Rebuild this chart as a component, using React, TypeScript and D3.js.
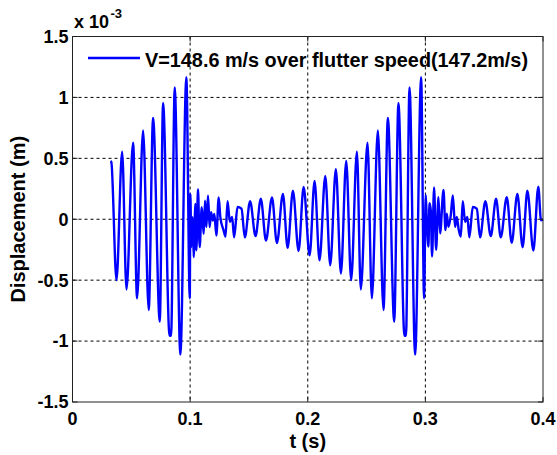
import React from "react";
import * as d3 from "d3";

// time (s), displacement (x 1e-3 m)
const segmentA: [number, number][] = [
  [0.0323, 0.478], [0.0330, 0.47], [0.0374, -0.5], [0.0422, 0.554], [0.0459, -0.576],
  [0.0515, 0.628], [0.0549, -0.649], [0.06, 0.728], [0.0648, -0.745], [0.0685, 0.832],
  [0.0742, -0.84], [0.077, 0.954], [0.0825, -0.957], [0.0838, -0.957], [0.0869, 1.082],
  [0.0917, -1.111], [0.0968, 1.166], [0.0997, -0.649],
];

const segmentB: [number, number][] = [
  [0.1002, 0.207], [0.101, -0.228], [0.1022, 0.016], [0.103, -0.31], [0.1045, 0.125],
  [0.1053, -0.255], [0.1067, 0.247], [0.1081, -0.228], [0.1099, 0.098], [0.1115, -0.12],
  [0.1127, 0.152], [0.1138, -0.065], [0.1152, 0.193], [0.1166, -0.065], [0.1178, 0.057],
  [0.1192, -0.01], [0.1206, 0.043], [0.1223, -0.133], [0.1243, 0.179], [0.1257, 0.016],
  [0.1284, -0.089], [0.1301, -0.143], [0.1318, 0.149], [0.1338, -0.022], [0.1357, 0.019],
  [0.1374, -0.149], [0.1403, 0.1], [0.1437, 0.086], [0.1465, -0.149], [0.151, 0.149],
  [0.1556, -0.138], [0.1601, 0.168], [0.1645, -0.175], [0.1696, 0.179], [0.1738, -0.196],
  [0.1789, 0.207], [0.1829, -0.234], [0.1874, 0.234], [0.1922, -0.261], [0.1965, 0.266],
  [0.2016, -0.296], [0.2058, 0.315], [0.21, -0.337], [0.2149, 0.356], [0.2191, -0.378],
  [0.2239, 0.41], [0.2282, -0.446], [0.2327, 0.478], [0.2369, -0.5], [0.2418, 0.554],
  [0.2451, -0.576], [0.2508, 0.628], [0.2545, -0.649], [0.2596, 0.728], [0.2644, -0.745],
  [0.2681, 0.832], [0.2735, -0.84], [0.2771, 0.954], [0.2822, -0.957], [0.2835, -0.957],
  [0.2865, 1.082], [0.2913, -1.111], [0.2964, 1.166], [0.2989, -0.649],
];

const segmentC: [number, number][] = [
  [0.3003, 0.2], [0.3012, -0.008], [0.3026, -0.224], [0.3035, 0.132], [0.3046, 0.073],
  [0.3057, -0.305], [0.3074, 0.262], [0.3091, -0.251], [0.3111, 0.181], [0.3125, -0.116],
  [0.3154, 0.24], [0.3171, -0.089], [0.3182, 0.046], [0.3196, -0.062], [0.3216, 0.032],
  [0.3233, 0.195], [0.3253, -0.062], [0.3267, 0.019], [0.3284, -0.089], [0.3301, -0.143],
  [0.3318, 0.149], [0.3338, -0.022], [0.3357, 0.019], [0.3374, -0.149], [0.3403, 0.1],
  [0.3437, 0.086], [0.3465, -0.149], [0.351, 0.149], [0.3556, -0.138], [0.3601, 0.168],
  [0.3641, -0.149], [0.3692, 0.181], [0.3734, -0.192], [0.3782, 0.208], [0.3827, -0.23],
  [0.3867, 0.235], [0.3918, -0.257], [0.396, 0.268], [0.3983, -0.008], [0.4, 0.0],
];

const xTicks = [0, 0.1, 0.2, 0.3, 0.4];
const xTickLabels = ["0", "0.1", "0.2", "0.3", "0.4"];
const yTicks = [-1.5, -1, -0.5, 0, 0.5, 1, 1.5];
const yTickLabels = ["-1.5", "-1", "-0.5", "0", "0.5", "1", "1.5"];

const legendLabel = "V=148.6 m/s over flutter speed(147.2m/s)";
const xLabel = "t (s)";
const yLabel = "Displacement (m)";

export default function App() {
  const W = 557, H = 455;
  const left = 72.5, right = 543, top = 36.5, bottom = 402;
  const x = d3.scaleLinear().domain([0, 0.4]).range([left, right]);
  const y = d3.scaleLinear().domain([-1.5, 1.5]).range([bottom, top]);
  const line = d3.line<[number, number]>().x((d) => x(d[0])).y((d) => y(d[1])).curve(d3.curveMonotoneX);
  const data = [...segmentA, ...segmentB, ...segmentC];
  const font = "'Liberation Sans', Arial, Helvetica, sans-serif";
  const tickLen = 5;

  return (
    <svg width={W} height={H} style={{ position: "absolute", left: 0, top: 0, background: "#fff" }}
      fontFamily={font} fontWeight="bold">
      <rect x={0} y={0} width={W} height={H} fill="#fff" />
      {/* grid */}
      {xTicks.slice(1, -1).map((t) => (
        <line key={"gx" + t} x1={x(t)} x2={x(t)} y1={top} y2={bottom} stroke="#000" strokeWidth={1} strokeDasharray="3,3" />
      ))}
      {yTicks.slice(1, -1).map((t) => (
        <line key={"gy" + t} x1={left} x2={right} y1={y(t)} y2={y(t)} stroke="#000" strokeWidth={1} strokeDasharray="3,3" />
      ))}
      {/* data */}
      <path d={line(data) || ""} fill="none" stroke="#0000ff" strokeWidth={2.4} strokeLinejoin="round" />
      {/* frame */}
      <rect x={left} y={top} width={right - left} height={bottom - top} fill="none" stroke="#222" strokeWidth={1} />
      {/* ticks */}
      {xTicks.map((t) => (
        <g key={"tx" + t}>
          <line x1={x(t)} x2={x(t)} y1={bottom} y2={bottom - tickLen} stroke="#222" />
          <line x1={x(t)} x2={x(t)} y1={top} y2={top + tickLen} stroke="#222" />
        </g>
      ))}
      {yTicks.map((t) => (
        <g key={"ty" + t}>
          <line x1={left} x2={left + tickLen} y1={y(t)} y2={y(t)} stroke="#222" />
          <line x1={right} x2={right - tickLen} y1={y(t)} y2={y(t)} stroke="#222" />
        </g>
      ))}
      {/* tick labels */}
      {xTicks.map((t, i) => (
        <text key={"lx" + t} x={x(t)} y={424.5} textAnchor="middle" fontSize={18} fill="#000">{xTickLabels[i]}</text>
      ))}
      {yTicks.map((t, i) => (
        <text key={"ly" + t} x={68.5} y={y(t) + 6.4} textAnchor="end" fontSize={18} fill="#000">{yTickLabels[i]}</text>
      ))}
      {/* exponent */}
      <text x={74} y={28} fontSize={18} fill="#000">x 10</text>
      <text x={110.5} y={18} fontSize={13} fill="#000">-3</text>
      {/* axis labels */}
      <text x={(left + right) / 2} y={447.5} textAnchor="middle" fontSize={20} fill="#000">{xLabel}</text>
      <text transform={`translate(25,${(top + bottom) / 2}) rotate(-90)`} textAnchor="middle" fontSize={20} fill="#000">{yLabel}</text>
      {/* legend */}
      <line x1={88} x2={140} y1={58} y2={58} stroke="#0000ff" strokeWidth={2.4} />
      <text x={145} y={66.5} fontSize={20} fill="#000" textLength={383} lengthAdjust="spacingAndGlyphs">{legendLabel}</text>
    </svg>
  );
}
